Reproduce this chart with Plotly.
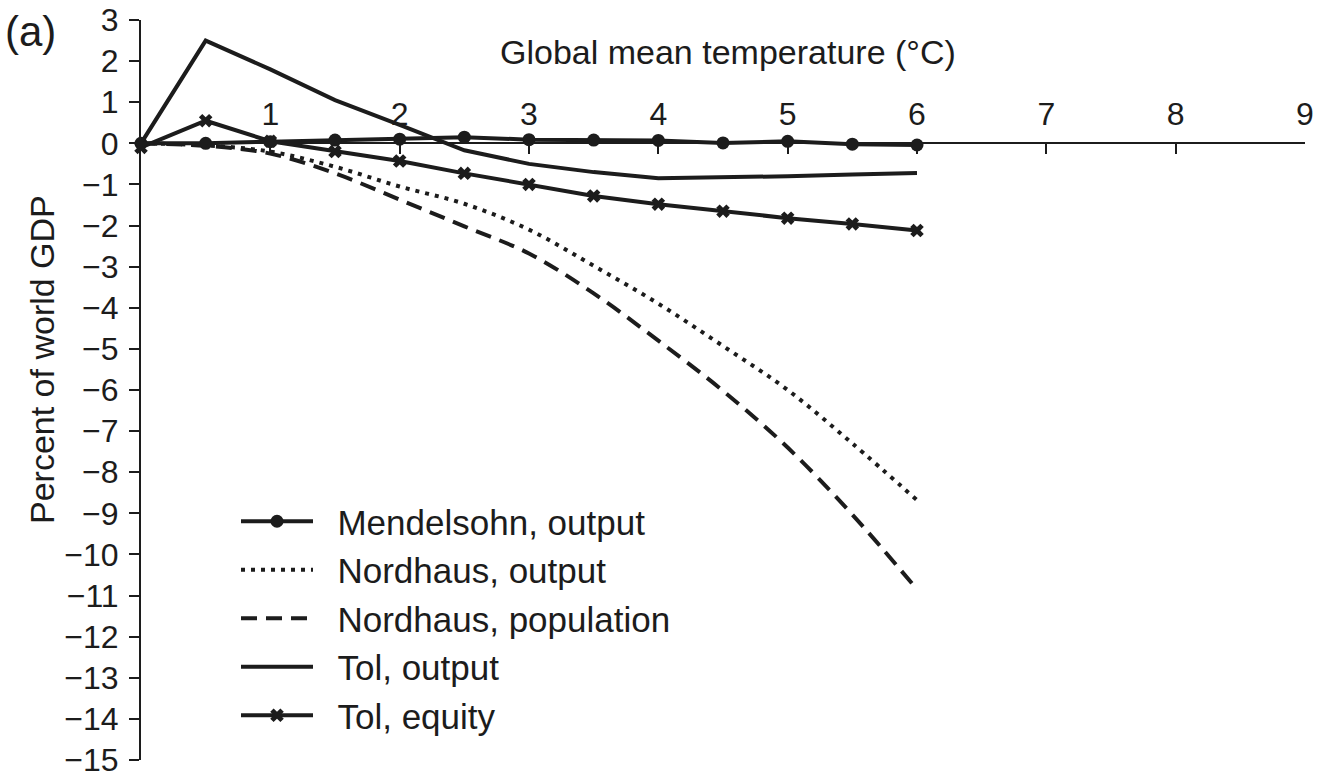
import plotly.graph_objects as go

temps = [0, 0.5, 1, 1.5, 2, 2.5, 3, 3.5, 4, 4.5, 5, 5.5, 6]
mendelsohn_output = [0.0, 0.0, 0.04, 0.08, 0.1, 0.15, 0.09, 0.08, 0.07, 0.01, 0.05, -0.02, -0.04]
nordhaus_output = [0.0, -0.05, -0.2, -0.57, -1.05, -1.47, -2.1, -2.98, -3.9, -4.93, -6.0, -7.3, -8.68]
nordhaus_population = [0.0, -0.06, -0.25, -0.73, -1.37, -2.02, -2.68, -3.65, -4.8, -6.02, -7.4, -9.03, -10.85]
tol_output = [0.0, 2.5, 1.8, 1.05, 0.45, -0.17, -0.5, -0.7, -0.85, -0.83, -0.8, -0.76, -0.72]
tol_equity = [-0.1, 0.55, 0.05, -0.2, -0.43, -0.73, -1.0, -1.28, -1.48, -1.65, -1.82, -1.96, -2.12]

x_ticks = [1, 2, 3, 4, 5, 6, 7, 8, 9]
y_ticks = list(range(-15, 4))

INK = "#1c1c1c"
FONT = "Liberation Sans, Arial, sans-serif"
PAD = "\u00a0\u00a0"

W, H = 1325, 780
L, R, T, B = 141, 20, 20, 20
PW, PH = W - L - R, H - T - B


def px(xs):
    return (xs - L) / PW


def py(ys):
    return (H - B - ys) / PH


fig = go.Figure()
fig.add_trace(go.Scatter(x=temps, y=mendelsohn_output, name=PAD + "Mendelsohn, output",
                         mode="lines+markers", line=dict(color=INK, width=4),
                         marker=dict(symbol="circle", size=13, color=INK), cliponaxis=False))
fig.add_trace(go.Scatter(x=temps, y=nordhaus_output, name=PAD + "Nordhaus, output",
                         mode="lines", line=dict(color=INK, width=4, dash="4px,6px", shape="spline"),
                         cliponaxis=False))
fig.add_trace(go.Scatter(x=temps, y=nordhaus_population, name=PAD + "Nordhaus, population",
                         mode="lines", line=dict(color=INK, width=4, dash="16px,9px", shape="spline"),
                         cliponaxis=False))
fig.add_trace(go.Scatter(x=temps, y=tol_output, name=PAD + "Tol, output",
                         mode="lines", line=dict(color=INK, width=4), cliponaxis=False))
fig.add_trace(go.Scatter(x=temps, y=tol_equity, name=PAD + "Tol, equity",
                         mode="lines+markers", line=dict(color=INK, width=4),
                         marker=dict(symbol="x", size=12, color=INK), cliponaxis=False))

fig.update_layout(
    width=W, height=H,
    margin=dict(l=L, r=R, t=T, b=B),
    paper_bgcolor="white", plot_bgcolor="white",
    font=dict(family=FONT, color=INK, size=32),
    showlegend=True,
    legend=dict(x=px(236), y=py(492), xanchor="left", yanchor="top",
                font=dict(size=35, family=FONT, color=INK),
                bgcolor="rgba(0,0,0,0)", itemwidth=72, tracegroupgap=0),
    xaxis=dict(range=[0, 9], tickvals=x_ticks, side="top", anchor="free", position=15 / 18,
               showline=True, linecolor=INK, linewidth=2, ticks="inside", ticklen=10,
               tickwidth=2, tickcolor=INK, showgrid=False, zeroline=False, automargin=False,
               tickfont=dict(size=32), ticklabelstandoff=5, ticklabeloverflow="allow"),
    yaxis=dict(range=[-15, 3], tickvals=y_ticks, showline=True, linecolor=INK, linewidth=2,
               ticks="outside", ticklen=10, tickwidth=2, tickcolor=INK, showgrid=False,
               zeroline=False, automargin=False, tickfont=dict(size=32), ticklabelstandoff=4,
               ticklabeloverflow="allow"),
    annotations=[
        dict(text="Global mean temperature (°C)", xref="paper", yref="paper",
             x=px(728), y=py(52), xanchor="center", yanchor="middle",
             showarrow=False, font=dict(size=34)),
        dict(text="Percent of world GDP", xref="paper", yref="paper",
             x=px(42), y=py(360), xanchor="center", yanchor="middle",
             textangle=-90, showarrow=False, font=dict(size=34)),
        dict(text="(a)", xref="paper", yref="paper",
             x=px(3), y=py(32), xanchor="left", yanchor="middle",
             showarrow=False, font=dict(size=42)),
    ],
)

fig.write_html("out.html", config={"displayModeBar": False},
               post_script="document.body.style.margin='0';")
